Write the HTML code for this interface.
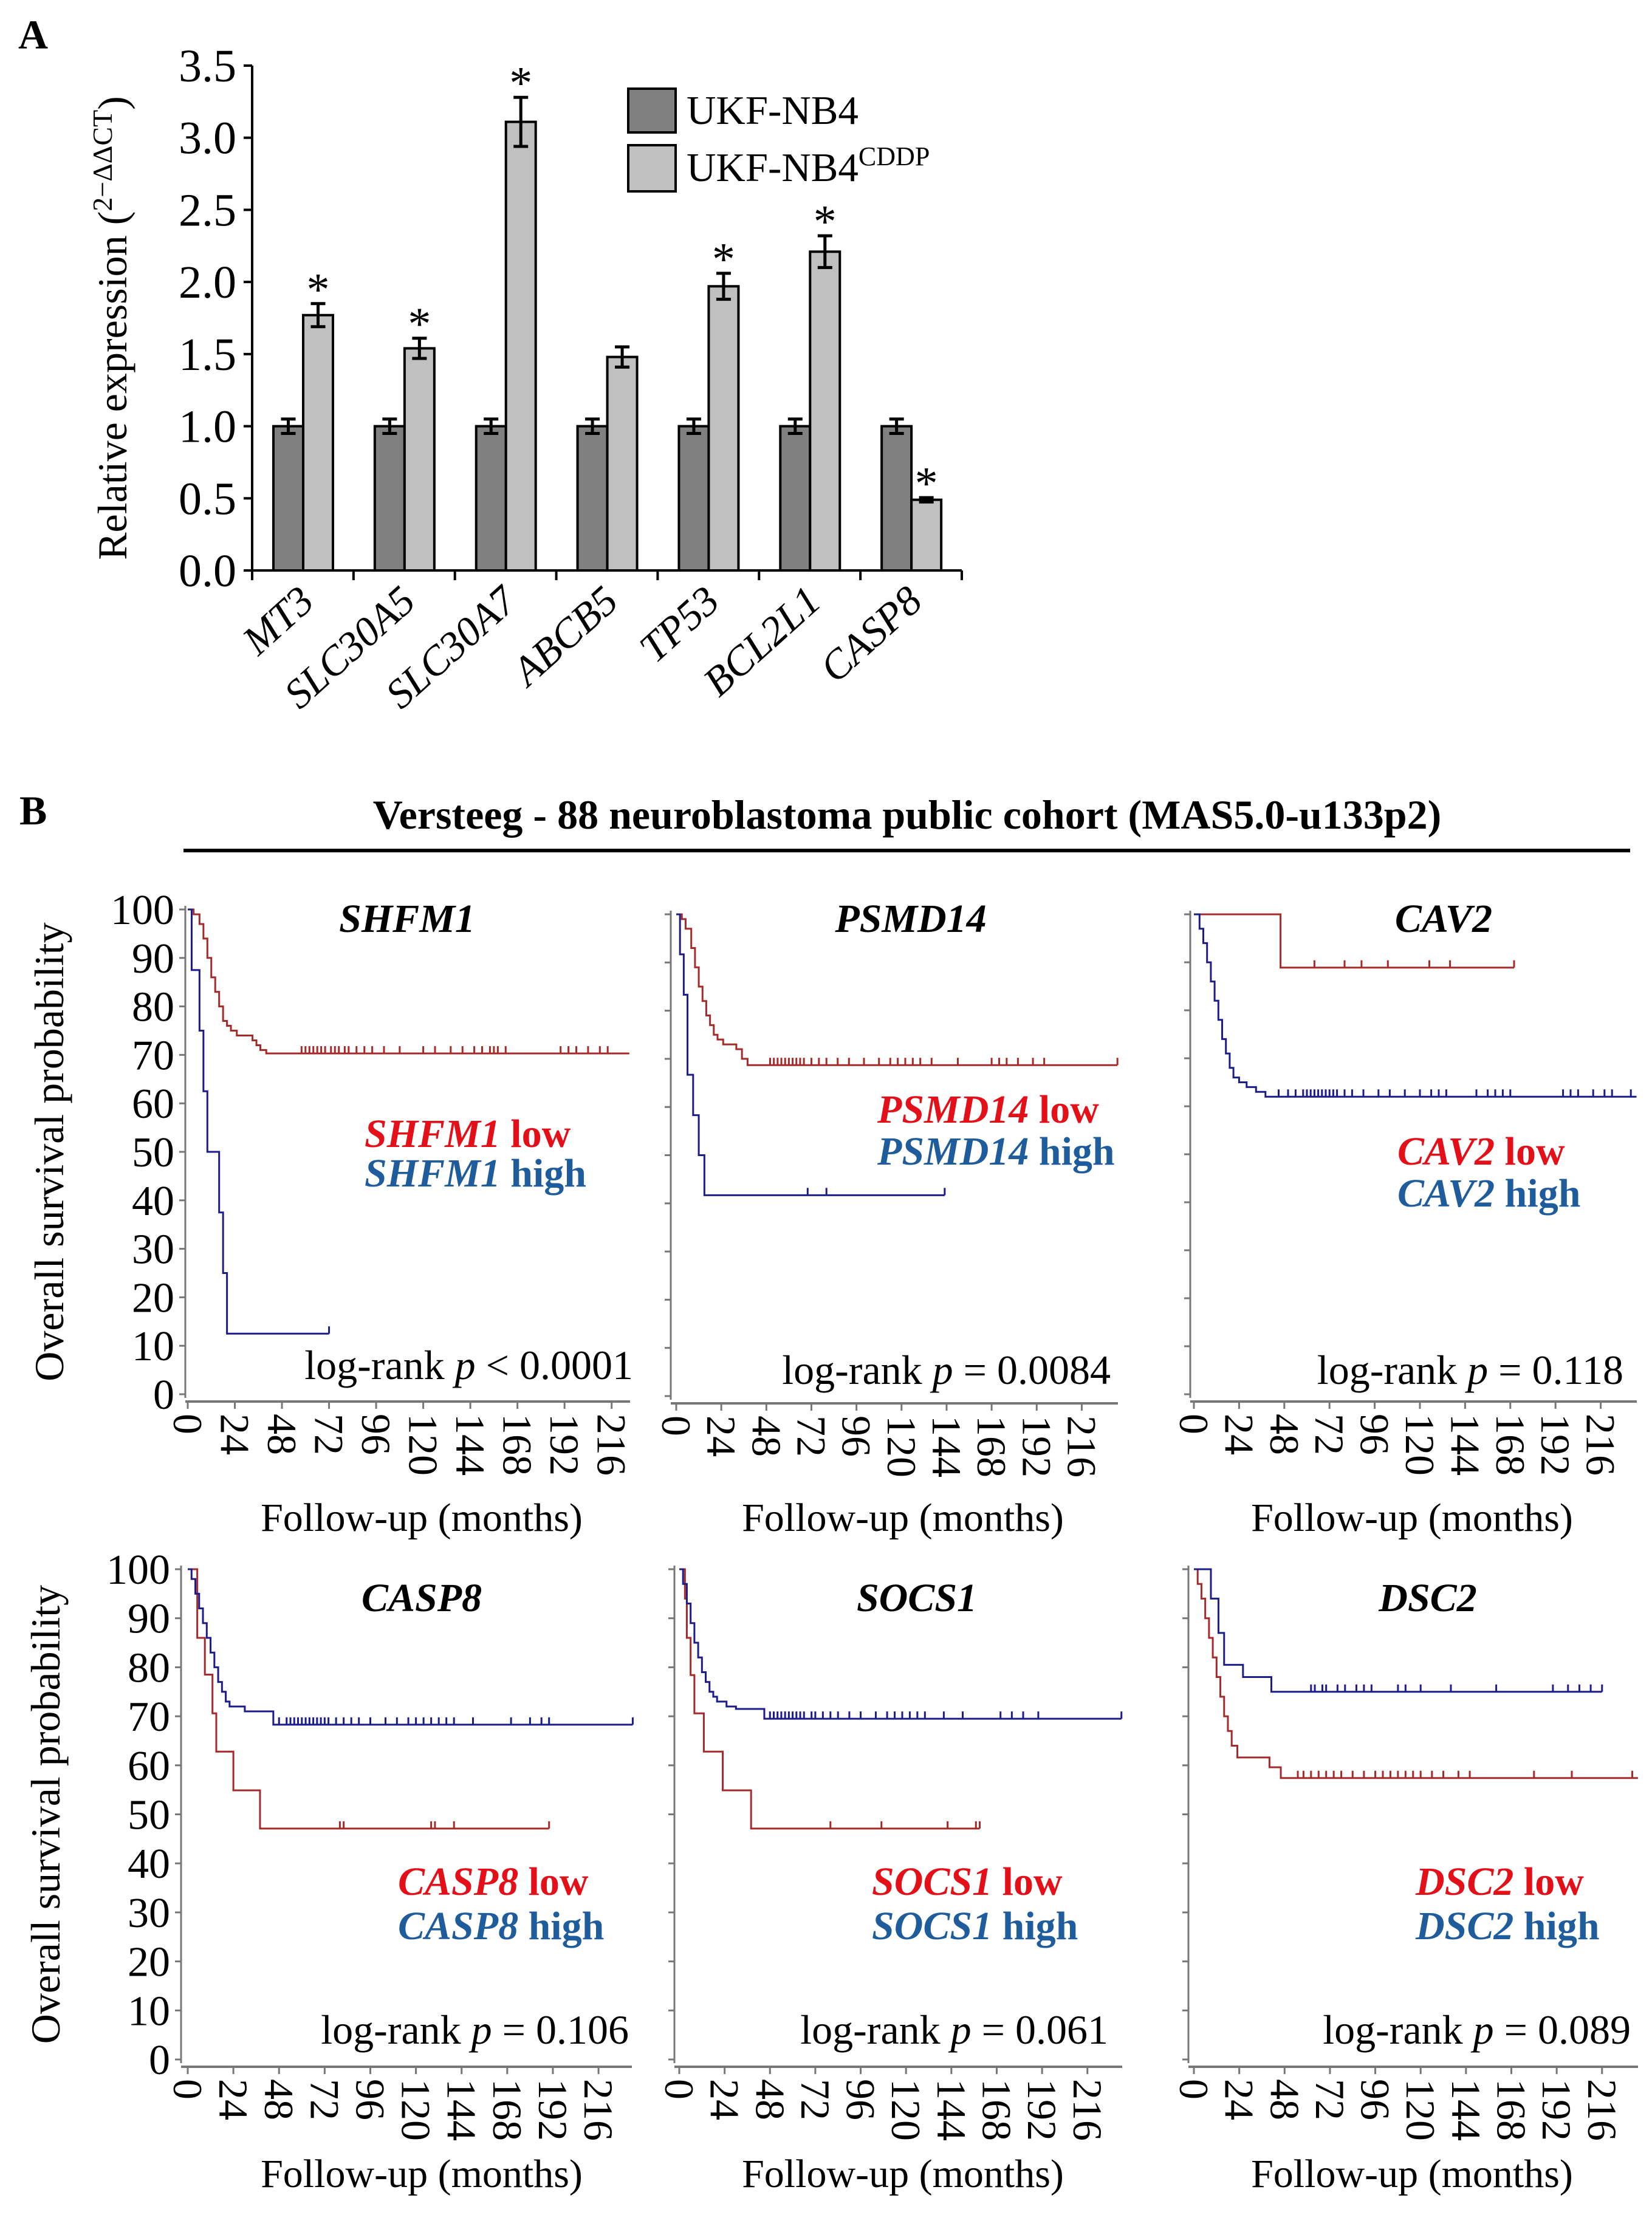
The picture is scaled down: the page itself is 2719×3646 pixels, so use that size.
<!DOCTYPE html>
<html><head><meta charset="utf-8"><style>
html,body{margin:0;padding:0;background:#fff}
svg{display:block;font-family:"Liberation Serif",serif}
</style></head><body>
<svg id="fig" xmlns="http://www.w3.org/2000/svg" width="2719" height="3646" viewBox="0 0 2719 3646">
<rect width="2719" height="3646" fill="#fff"/>
<text x="30" y="80" font-size="68" font-weight="bold">A</text>
<g id="barchart"></g>
<text x="32" y="1357" font-size="68" font-weight="bold">B</text>
<text x="1493" y="1364" font-size="68" font-weight="bold" text-anchor="middle">Versteeg - 88 neuroblastoma public cohort (MAS5.0-u133p2)</text>
<line x1="302" y1="1400" x2="2683" y2="1400" stroke="#000" stroke-width="6"/>
<g id="km"></g>
</svg>
<script>
// ---------- Panel A data ----------
const genes = ["MT3","SLC30A5","SLC30A7","ABCB5","TP53","BCL2L1","CASP8"];
const parentVals = [1,1,1,1,1,1,1];
const parentErr = [0.05,0.05,0.05,0.05,0.05,0.05,0.05];
const cddpVals = [1.77,1.54,3.11,1.48,1.97,2.21,0.49];
const cddpErr = [0.08,0.07,0.17,0.07,0.09,0.11,0.015];
const signif = [1,1,1,0,1,1,1];
const yTicksA = [0,0.5,1,1.5,2,2.5,3,3.5];

// ---------- Panel B data ----------
const kmGenes = ["SHFM1","PSMD14","CAV2","CASP8","SOCS1","DSC2"];
const kmP = ["log-rank ","log-rank ","log-rank ","log-rank ","log-rank ","log-rank "];
const kmPval = ["< 0.0001","= 0.0084","= 0.118","= 0.106","= 0.061","= 0.089"];
const xTicksKM = [0,24,48,72,96,120,144,168,192,216];
const yTicksKM = [0,10,20,30,40,50,60,70,80,90,100];

const lowT = [
 [0,3,6,8,10,12,14,16,18,20,22,25,33,35,37,40],
 [0,3,5,8,10,12,14,16,18,20,22,25,32,35,38],
 [0,46],
 [0,5,9,13,15,24,38],
 [0,3,4,6,8,13,23,38],
 [0,2,4,6,8,10,12,14,16,18,20,23,40,46]];
const lowV = [
 [100,99,97,94,90,86,83,80,77,76,75,74,73,72,71,70.3],
 [100,99,97,93,89,85,82,79,77,75,74,73,72,70,68.7],
 [100,88.9],
 [100,86,78.5,70.6,62.8,54.9,47.1],
 [100,94,86,78.4,70.6,62.8,54.9,47.1],
 [100,97,94,90,86,82,78,74,70,67,64,61.6,59.6,57.4]];
const lowEnd = [225,235,170,190,159,235];
const lowCens = [
 [58,60,62,64,66,68,70,73,75,77,80,82,86,90,94,100,108,120,126,134,140,146,150,154,156,158,162,190,194,198,204,210,214],
 [50,52,54,56,58,60,62,64,66,68,72,76,80,86,92,100,108,114,118,122,126,130,136,150,168,172,176,182,190,196,235],
 [64,80,89,103,125,136,170],
 [80,82,128,130,140,190],
 [80,107,142,157,159],
 [55,58,62,66,70,74,78,84,90,96,100,104,108,112,116,120,126,132,140,146,180,200,232]];
const highT = [
 [0,2,6,8,10,16,18,20],
 [0,2,4,6,9,12,15],
 [0,3,5,7,9,11,13,15,17,19,21,24,28,33,38],
 [0,2,4,6,8,10,12,14,16,18,20,22,30,45],
 [0,2,4,6,8,10,12,14,16,18,20,25,30,45],
 [0,9,13,16,26,41]];
const highV = [
 [100,87.5,75,62.5,50,37.5,25,12.5],
 [100,91.7,83.3,66.7,58.3,50,41.7],
 [100,97,94,90,86,82,78,74,71,68,66,65,64,63,62],
 [100,98,95,92,89,86,83,80,77,75,73,72,71,68.3],
 [100,97,93,89,85,82,79,77,75,74,73,72,71.5,69.5],
 [100,94,87,80.5,78,75]];
const highEnd = [72,143,235,234,234,216];
const highCens = [
 [72],
 [70,80,143],
 [45,50,54,58,60,62,64,66,68,70,72,74,76,80,84,90,98,104,112,120,126,130,134,150,156,160,164,168,196,200,204,212,218,222,232],
 [48,52,54,56,58,60,62,64,66,68,70,72,74,78,82,86,90,96,104,110,116,120,124,128,132,136,140,150,170,180,186,190,234],
 [48,50,52,54,56,58,60,62,64,66,70,72,76,80,84,90,96,104,110,114,118,122,126,130,140,150,170,176,182,190,234],
 [62,64,68,70,76,80,86,90,94,108,112,120,136,160,190,198,204,210,216]];

const NS = "http://www.w3.org/2000/svg";
function mk(tag, attrs, parent, txt){
  const e = document.createElementNS(NS, tag);
  for (const k in attrs) e.setAttribute(k, attrs[k]);
  if (txt !== undefined) e.textContent = txt;
  parent.appendChild(e);
  return e;
}

// ---------- Draw panel A ----------
(function(){
  const g = document.getElementById("barchart");
  const ax0 = 415, ax1 = 1583, y0 = 939, yTop = 108, ymax = 3.5;
  const yA = v => y0 - (v / ymax) * (y0 - yTop);
  const gw = (ax1 - ax0) / genes.length;
  let e = mk("line",{x1:ax0,y1:yTop,x2:ax0,y2:y0,stroke:"#000","stroke-width":4},g);
   
  e = mk("line",{x1:ax0,y1:y0,x2:ax1,y2:y0,stroke:"#000","stroke-width":4},g);
   
  yTicksA.forEach(t=>{
    const y = yA(t);
    let l = mk("line",{x1:ax0-14,y1:y,x2:ax0,y2:y,stroke:"#000","stroke-width":4},g);
     
    let tx = mk("text",{x:ax0-26,y:y+26,"font-size":76,"text-anchor":"end"},g,t.toFixed(1));
     
  });
  for (let i=0;i<=genes.length;i++){
    const x = ax0 + i*gw;
    let l = mk("line",{x1:x,y1:y0,x2:x,y2:y0+16,stroke:"#000","stroke-width":4},g);
     
  }
  genes.forEach((gn,i)=>{
    const gx = ax0 + i*gw;
    const bw = 49, b1 = gx + 35, b2 = b1 + bw;
    let r = mk("rect",{x:b1,y:yA(parentVals[i]),width:bw,height:y0-yA(parentVals[i]),fill:"#808080",stroke:"#000","stroke-width":4},g);
     
    r = mk("rect",{x:b2,y:yA(cddpVals[i]),width:bw,height:y0-yA(cddpVals[i]),fill:"#c0c0c0",stroke:"#000","stroke-width":4},g);
     
    [[b1+bw/2,parentVals[i],parentErr[i]],[b2+bw/2,cddpVals[i],cddpErr[i]]].forEach(([cx,v,er])=>{
      const p = mk("path",{d:`M${cx-12},${yA(v+er)}H${cx+12}M${cx},${yA(v+er)}V${yA(v-er)}M${cx-12},${yA(v-er)}H${cx+12}`,stroke:"#000","stroke-width":5,fill:"none"},g);
       
    });
    if (signif[i]){
      const s = mk("text",{x:b2+bw/2,y:yA(cddpVals[i]+cddpErr[i])+2,"font-size":76,"text-anchor":"middle"},g,"*");
       
    }
    const cx = gx + gw/2 + 22, cy = 995;
    const t = mk("text",{x:cx,y:cy,"font-size":68,"font-style":"italic","text-anchor":"end",transform:`rotate(-42 ${cx} ${cy})`},g,gn);
     
  });
  const yt = mk("text",{x:0,y:0,"font-size":68,"text-anchor":"middle",transform:"translate(208 540) rotate(-90)"},g);
   
  yt.appendChild(document.createTextNode("Relative expression ("));
  mk("tspan",{"font-size":46,dy:-24},yt,"2\u2212\u0394\u0394CT");
  mk("tspan",{dy:24},yt,")");
  // legend
  let lr = mk("rect",{x:1034,y:146,width:78,height:72,fill:"#808080",stroke:"#000","stroke-width":4},g);
   
  lr = mk("rect",{x:1034,y:239,width:78,height:76,fill:"#c0c0c0",stroke:"#000","stroke-width":4},g);
   
  let lt = mk("text",{x:1130,y:204,"font-size":67},g,"UKF-NB4");
   
  lt = mk("text",{x:1130,y:298,"font-size":67},g,"UKF-NB4");
   
  mk("tspan",{"font-size":44,dy:-26},lt,"CDDP");
})();

// ---------- Draw panel B ----------
const panels = [
 {x0:309,ppm:3.23,y100:1497,y0:2295,end:1037,ax:305,title:[670,1534],leg:[600,1866,1931],lr:[1042,2270],fx:694,fy:2520},
 {x0:1113,ppm:3.09,y100:1505,y0:2298,end:1840,ax:1104,title:[1499,1534],leg:[1444,1826,1895],lr:[1828,2278],fx:1486,fy:2520},
 {x0:1965,ppm:3.10,y100:1505,y0:2295,end:2694,ax:1959,title:[2376,1534],leg:[2300,1895,1964],lr:[2672,2278],fx:2324,fy:2520},
 {x0:309,ppm:3.13,y100:2583,y0:3390,end:1040,ax:298,title:[694,2652],leg:[655,3097,3170],lr:[1035,3364],fx:694,fy:3600},
 {x0:1118,ppm:3.11,y100:2583,y0:3390,end:1847,ax:1110,title:[1509,2652],leg:[1435,3097,3170],lr:[1824,3364],fx:1486,fy:3600},
 {x0:1965,ppm:3.11,y100:2583,y0:3390,end:2696,ax:1956,title:[2350,2652],leg:[2330,3097,3170],lr:[2684,3364],fx:2324,fy:3600}];

(function(){
  const root = document.getElementById("km");
  panels.forEach((P,pi)=>{
    const g = mk("g",{},root);
    
    
    const X = m => P.x0 + m*P.ppm;
    const Y = v => P.y0 - v/100*(P.y0-P.y100);
    let e = mk("line",{x1:P.ax,y1:P.y100-6,x2:P.ax,y2:P.y0+6,stroke:"#777","stroke-width":3},g);
     
    e = mk("line",{x1:P.ax,y1:P.y0+12,x2:P.end,y2:P.y0+12,stroke:"#777","stroke-width":4},g);
     
    yTicksKM.forEach(t=>{
      const y = Y(t);
      let l = mk("line",{x1:P.ax-10,y1:y,x2:P.ax,y2:y,stroke:"#777","stroke-width":3},g);
       
      if (pi===0 || pi===3){
        let tx = mk("text",{x:P.ax-18,y:y+24,"font-size":70,"text-anchor":"end"},g,String(t));
         
      }
    });
    xTicksKM.forEach(t=>{
      const x = X(t);
      let l = mk("line",{x1:x,y1:P.y0+12,x2:x,y2:P.y0+24,stroke:"#777","stroke-width":3},g);
       
      const ty = P.y0+32;
      let tx = mk("text",{x:x,y:ty,"font-size":68,"text-anchor":"start","dominant-baseline":"central",transform:`rotate(90 ${x} ${ty})`},g,String(t));
       
    });
    function curve(T,V,end,cens,color,nm){
      let d = `M${X(T[0])},${Y(V[0])}`;
      for (let i=1;i<T.length;i++) d += `H${X(T[i])}V${Y(V[i])}`;
      d += `H${X(end)}`;
      const p = mk("path",{d:d,fill:"none",stroke:color,"stroke-width":3},g);
       
      cens.forEach(c=>{
        let v = V[0];
        for (let i=0;i<T.length;i++) if (T[i]<=c) v = V[i];
        const l = mk("line",{x1:X(c),y1:Y(v)-12,x2:X(c),y2:Y(v),stroke:color,"stroke-width":3},g);
         
      });
    }
    curve(lowT[pi],lowV[pi],lowEnd[pi],lowCens[pi],"#a52a2a","low-expression");
    curve(highT[pi],highV[pi],highEnd[pi],highCens[pi],"#1c1c8a","high-expression");
    let t = mk("text",{x:P.title[0],y:P.title[1],"font-size":66,"font-weight":"bold","font-style":"italic","text-anchor":"middle"},g,kmGenes[pi]);
     
    t = mk("text",{x:P.leg[0],y:P.leg[1]+22,"font-size":66,"font-weight":"bold",fill:"#e3101a"},g);
     
    mk("tspan",{"font-style":"italic"},t,kmGenes[pi]);
    mk("tspan",{},t," low");
    t = mk("text",{x:P.leg[0],y:P.leg[2]+22,"font-size":66,"font-weight":"bold",fill:"#1f5c9c"},g);
     
    mk("tspan",{"font-style":"italic"},t,kmGenes[pi]);
    mk("tspan",{},t," high");
    t = mk("text",{x:P.lr[0],y:P.lr[1],"font-size":68,"text-anchor":"end"},g);
     
    mk("tspan",{},t,kmP[pi]);
    mk("tspan",{"font-style":"italic"},t,"p");
    mk("tspan",{},t," "+kmPval[pi]);
    t = mk("text",{x:P.fx,y:P.fy,"font-size":66,"text-anchor":"middle"},g,"Follow-up (months)");
     
    if (pi===0 || pi===3){
      const cy = (P.y0+P.y100)/2;
      t = mk("text",{x:0,y:0,"font-size":68,"text-anchor":"middle",transform:`translate(${pi===0?104:98} ${cy}) rotate(-90)`},g,"Overall survival probability");
       
    }
  });
})();
</script>
</body></html>
